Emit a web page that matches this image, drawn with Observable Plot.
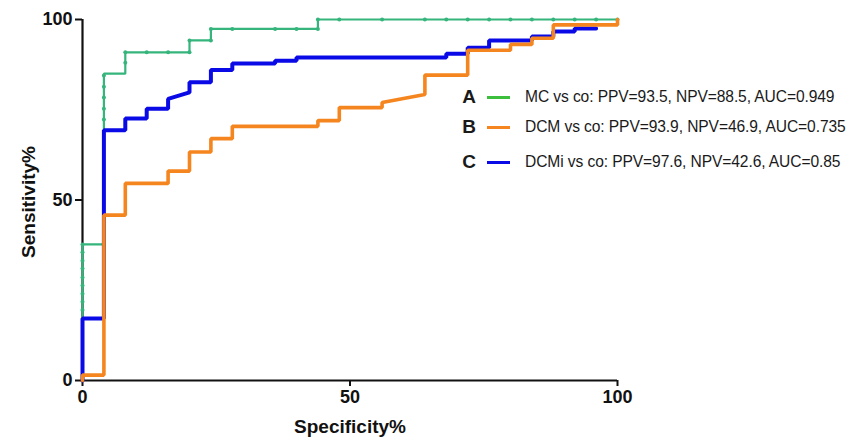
<!DOCTYPE html>
<html>
<head>
<meta charset="utf-8">
<script src="https://cdn.jsdelivr.net/npm/d3@7"></script>
<script src="https://cdn.jsdelivr.net/npm/@observablehq/plot@0.6"></script>
<style>
  html, body { margin: 0; padding: 0; background: #fff; }
  #wrap { position: relative; width: 852px; height: 441px; font-family: "Liberation Sans", Arial, Helvetica, sans-serif; }
  #wrap svg text { font-weight: bold; }
  .leg { position: absolute; left: 458px; height: 20px; line-height: 20px; white-space: nowrap; color: #1a1a1a; }
  .leg .k { position: absolute; left: 0; width: 22px; text-align: center; font-weight: bold; font-size: 19px; }
  .leg .sw { position: absolute; left: 29px; top: 8.5px; width: 23px; height: 3px; }
  .leg .t { position: absolute; left: 67px; font-size: 15.6px; letter-spacing: -0.1px; }
  .ttl { position: absolute; font-weight: bold; font-size: 19px; line-height: 22px; color: #111; white-space: nowrap; }
</style>
</head>
<body>
<div id="wrap"></div>
<script>
// ---- data ----
// MC vs co (green)
const mcSpec = [0, 0, 4, 4, 8, 8, 20, 20, 24, 24, 44, 44, 100];
const mcSens = [0, 37.7, 37.7, 85, 85, 90.9, 90.9, 94.2, 94.2, 97.4, 97.4, 100, 100];
// visible point markers on the MC curve
const mcDotSpec = [0, 0, 0, 0, 0, 0, 0, 0, 0, 4, 4, 4, 4, 4, 4, 8, 8, 12, 16, 20, 20, 24, 24, 28, 36, 40, 44, 44, 48, 56, 64, 68, 72, 76, 80, 84, 88, 92, 96, 100];
const mcDotSens = [19.5, 21.8, 24, 26.3, 28.5, 31, 33.2, 35.5, 37.7, 37.7, 72.3, 75.3, 78.4, 81.4, 84.5, 88, 90.9, 90.9, 90.9, 90.9, 94.2, 94.2, 97.4, 97.4, 97.4, 97.4, 97.4, 100, 100, 100, 100, 100, 100, 100, 100, 100, 100, 100, 100, 100];
// DCM vs co (orange)
const dcmSpec = [0, 0, 4, 4, 8, 8, 16, 16, 20, 20, 24, 24, 28, 28, 44, 44, 48, 48, 56, 56, 64, 64, 72, 72, 80, 80, 84, 84, 88, 88, 100, 100];
const dcmSens = [0, 1.5, 1.5, 45.8, 45.8, 54.6, 54.6, 58, 58, 63.3, 63.3, 67, 67, 70.4, 70.4, 72, 72, 75.6, 75.6, 77, 79.2, 84.6, 84.6, 91.5, 91.5, 93.1, 93.1, 94.8, 94.8, 98.5, 98.5, 100];
// DCMi vs co (blue)
const dcmiSpec = [0, 0, 4, 4, 8, 8, 12, 12, 16, 16, 20, 20, 24, 24, 28, 28, 36, 36, 40, 40, 68, 68, 72, 72, 76, 76, 84, 84, 88, 88, 92, 92, 96];
const dcmiSens = [0, 17.2, 17.2, 69.3, 69.3, 72.6, 72.6, 75.3, 75.3, 78, 79.8, 82.6, 82.6, 86, 86, 87.8, 87.8, 88.6, 88.6, 89.5, 89.5, 90.5, 90.5, 92.2, 92.2, 94.2, 94.2, 95.3, 95.3, 96.7, 96.7, 97.5, 97.5];

const tickValues = [0, 50, 100];
const legendKeys = ["A", "B", "C"];
const legendLabels = [
  "MC vs co: PPV=93.5, NPV=88.5, AUC=0.949",
  "DCM vs co: PPV=93.9, NPV=46.9, AUC=0.735",
  "DCMi vs co: PPV=97.6, NPV=42.6, AUC=0.85"
];
const xTitle = "Specificity%";
const yTitle = "Sensitivity%";

// ---- build tables ----
const toRows = (xs, ys) => xs.map((x, i) => ({x, y: ys[i]}));
const mc = toRows(mcSpec, mcSens);
const mcDots = toRows(mcDotSpec, mcDotSens);
const dcm = toRows(dcmSpec, dcmSens);
const dcmi = toRows(dcmiSpec, dcmiSens);

const GREEN = "#35b57c";
const ORANGE = "#f5861f";
const BLUE = "#0a0ae6";
const legendColors = ["#3cbf3c", ORANGE, BLUE];

const chart = Plot.plot({
  width: 852,
  height: 441,
  marginLeft: 82,
  marginRight: 235,
  marginTop: 19,
  marginBottom: 61,
  style: {fontFamily: "'Liberation Sans', Arial, Helvetica, sans-serif", fontSize: "18px", color: "#111", background: "#fff", overflow: "visible"},
  x: {domain: [0, 100]},
  y: {domain: [0, 100]},
  marks: [
    Plot.axisX({ticks: tickValues, tickSize: 6, tickPadding: 4, label: null, fontSize: 18, fontWeight: "bold", strokeWidth: 2}),
    Plot.axisY({ticks: tickValues, tickSize: 7, tickPadding: 3, label: null, fontSize: 18, fontWeight: "bold", strokeWidth: 2}),
    Plot.ruleX([0], {stroke: "#111", strokeWidth: 2.2}),
    Plot.ruleY([0], {stroke: "#111", strokeWidth: 2.2}),
    Plot.line(mc, {x: "x", y: "y", stroke: GREEN, strokeWidth: 2.2, strokeLinejoin: "miter"}),
    Plot.dot(mcDots, {x: "x", y: "y", r: 2, fill: GREEN, stroke: null}),
    Plot.line(dcmi, {x: "x", y: "y", stroke: BLUE, strokeWidth: 4, strokeLinejoin: "miter"}),
    Plot.line(dcm, {x: "x", y: "y", stroke: ORANGE, strokeWidth: 3.6, strokeLinejoin: "miter"})
  ]
});
const wrap = document.getElementById("wrap");
wrap.appendChild(chart);

// legend (inside the plot area, right side)
const rowTops = [87, 117, 152];
legendKeys.forEach((k, i) => {
  const row = document.createElement("div");
  row.className = "leg";
  row.style.top = rowTops[i] + "px";
  row.innerHTML = `<span class="k">${k}</span><span class="sw" style="background:${legendColors[i]}"></span><span class="t">${legendLabels[i]}</span>`;
  wrap.appendChild(row);
});

// axis titles
const xt = document.createElement("div");
xt.className = "ttl";
xt.textContent = xTitle;
xt.style.left = "350px";
xt.style.top = "416px";
xt.style.transform = "translateX(-50%)";
wrap.appendChild(xt);

const yt = document.createElement("div");
yt.className = "ttl";
yt.textContent = yTitle;
yt.style.left = "29px";
yt.style.top = "202px";
yt.style.transform = "translate(-50%, -50%) rotate(-90deg)";
wrap.appendChild(yt);
</script>
</body>
</html>
